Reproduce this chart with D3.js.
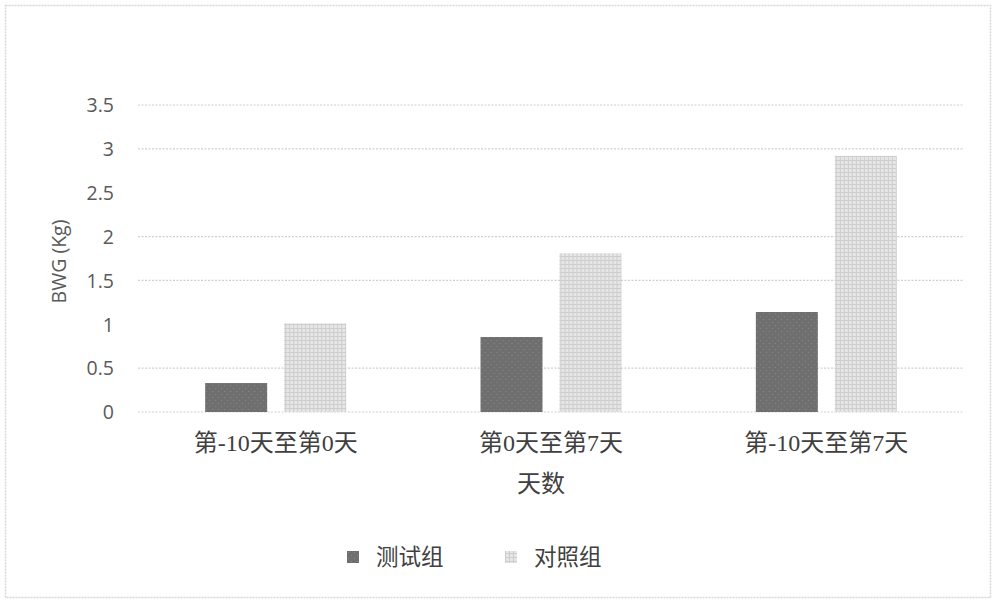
<!DOCTYPE html>
<html>
<head>
<meta charset="utf-8">
<script src="https://cdn.jsdelivr.net/npm/d3@7/dist/d3.min.js"></script>
<style>
  html, body { margin: 0; padding: 0; background: #fff; }
  .tick-text { font-family: "Open Sans", "Liberation Sans", sans-serif; fill: #5a5a5a; }
  .cjk { font-family: "Liberation Serif", "Noto Sans CJK SC", serif; fill: #404040; }
</style>
</head>
<body>
<div id="chart"></div>
<script>
// data
const categories = ["第-10天至第0天", "第0天至第7天", "第-10天至第7天"];
const seriesNames = ["测试组", "对照组"];
const testValues = [0.33, 0.855, 1.14];
const controlValues = [1.01, 1.81, 2.92];
const yTicks = [0, 0.5, 1, 1.5, 2, 2.5, 3, 3.5];
// gridlines visible in the scan (1 and 2.5 are lost)
const gridValues = [0, 0.5, 1.5, 2, 3, 3.5];

const width = 1000, height = 605;
const plot = {left: 138, right: 964, top: 105, bottom: 412};

const svg = d3.select('#chart')
    .append('svg')
    .attr('width', width)
    .attr('height', height);

// patterns for the bars
const defs = svg.append('defs');
const darkPat = defs.append('pattern')
    .attr('id', 'darkPat')
    .attr('width', 6).attr('height', 6)
    .attr('patternUnits', 'userSpaceOnUse');
darkPat.append('rect').attr('width', 6).attr('height', 6).attr('fill', '#6f6f6f');
darkPat.append('rect').attr('x', 1).attr('y', 1).attr('width', 1).attr('height', 1).attr('fill', '#8a8a8a');
darkPat.append('rect').attr('x', 4).attr('y', 4).attr('width', 1).attr('height', 1).attr('fill', '#868686');

const lightPat = defs.append('pattern')
    .attr('id', 'lightPat')
    .attr('width', 4).attr('height', 4)
    .attr('patternUnits', 'userSpaceOnUse');
lightPat.append('rect').attr('width', 4).attr('height', 4).attr('fill', '#e6e6e6');
lightPat.append('rect').attr('width', 4).attr('height', 1).attr('fill', '#cdcdcd');
lightPat.append('rect').attr('width', 1).attr('height', 4).attr('fill', '#cdcdcd');

// outer border
svg.append('rect')
    .attr('x', 5.5).attr('y', 5.5)
    .attr('width', 985).attr('height', 592)
    .attr('fill', 'none')
    .attr('stroke', '#d6d6d6')
    .attr('stroke-width', 1.5)
    .attr('stroke-dasharray', '2,1');

const x = d3.scaleBand()
    .domain(categories)
    .range([plot.left, plot.right])
    .paddingInner(0.488)
    .paddingOuter(0.244);

const xInner = d3.scaleBand()
    .domain(seriesNames)
    .range([0, x.bandwidth()])
    .paddingInner(0.215);

const y = d3.scaleLinear()
    .domain([0, 3.5])
    .range([plot.bottom, plot.top]);

// gridlines
svg.append('g')
    .selectAll('line')
    .data(gridValues)
    .enter().append('line')
    .attr('x1', plot.left)
    .attr('x2', plot.right)
    .attr('y1', d => y(d))
    .attr('y2', d => y(d))
    .attr('stroke', '#cfcfcf')
    .attr('stroke-width', 1.2)
    .attr('stroke-dasharray', '2,1.5');

// y axis labels
const yAxis = d3.axisLeft(y)
    .tickValues(yTicks)
    .tickSize(0)
    .tickPadding(0)
    .tickFormat(d3.format('~g'));
const yAxisG = svg.append('g')
    .attr('transform', `translate(114,0)`)
    .call(yAxis);
yAxisG.select('.domain').remove();
yAxisG.selectAll('text')
    .attr('class', 'tick-text')
    .attr('font-size', 19.5)
    .attr('dy', '0.35em');

svg.append('text')
    .attr('class', 'tick-text')
    .attr('transform', `translate(66,${(plot.top + plot.bottom) / 2 + 3}) rotate(-90)`)
    .attr('text-anchor', 'middle')
    .attr('font-size', 19.5)
    .text('BWG (Kg)');

// bars
const rows = categories.map((c, i) => ({
    cat: c,
    vals: [
        {name: seriesNames[0], value: testValues[i], fill: 'url(#darkPat)'},
        {name: seriesNames[1], value: controlValues[i], fill: 'url(#lightPat)'},
    ]
}));

const groups = svg.append('g')
    .selectAll('g')
    .data(rows)
    .enter().append('g')
    .attr('transform', d => `translate(${x(d.cat)},0)`);

groups.selectAll('rect')
    .data(d => d.vals)
    .enter().append('rect')
    .attr('x', d => xInner(d.name))
    .attr('y', d => y(d.value))
    .attr('width', xInner.bandwidth())
    .attr('height', d => y(0) - y(d.value))
    .attr('fill', d => d.fill);

// x axis labels
const xAxis = d3.axisBottom(x).tickSize(0).tickPadding(0);
const xAxisG = svg.append('g')
    .attr('transform', `translate(0,${plot.bottom})`)
    .call(xAxis);
xAxisG.select('.domain').remove();
xAxisG.selectAll('text')
    .attr('class', 'cjk')
    .attr('font-size', 24)
    .attr('y', 31)
    .attr('dy', '0.35em');

svg.append('text')
    .attr('class', 'cjk')
    .attr('x', 541)
    .attr('y', 484)
    .attr('dy', '0.35em')
    .attr('text-anchor', 'middle')
    .attr('font-size', 24)
    .text('天数');

// legend
const legendX = [347, 505];
const legendFills = ['url(#darkPat)', 'url(#lightPat)'];
const legend = svg.append('g')
    .selectAll('g')
    .data(seriesNames)
    .enter().append('g')
    .attr('transform', (d, i) => `translate(${legendX[i]},557)`);
legend.append('rect')
    .attr('x', 0).attr('y', -6)
    .attr('width', 12).attr('height', 12)
    .attr('fill', (d, i) => legendFills[i]);
legend.append('text')
    .attr('class', 'cjk')
    .attr('x', 29)
    .attr('dy', '0.35em')
    .attr('font-size', 22.5)
    .text(d => d);
</script>
</body>
</html>
